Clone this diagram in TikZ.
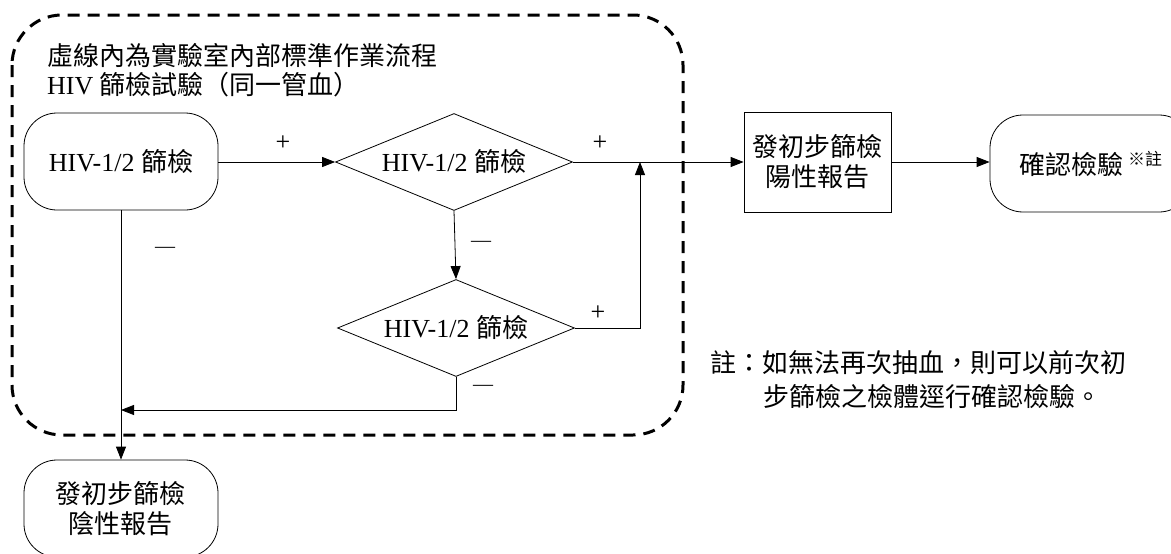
\documentclass[tikz,border=0pt]{standalone}
\usepackage{fontspec}
\setmainfont{Liberation Serif}
\newfontfamily\cjk{Noto Sans CJK TC}
\usetikzlibrary{shapes.geometric,arrows.meta}
\begin{document}
\begin{tikzpicture}[x=1pt,y=-1pt,
  font=\fontsize{26}{30}\selectfont,
  rbox/.style={draw, line width=0.8pt, rectangle, rounded corners=33pt, minimum width=194pt, minimum height=97pt, align=center, inner sep=0pt},
  pbox/.style={draw, line width=0.8pt, rectangle, minimum width=147pt, minimum height=100pt, align=center, inner sep=0pt},
  dia/.style={draw, line width=0.8pt, diamond, aspect=2.44, minimum width=237pt, minimum height=97pt, inner sep=0pt},
  conn/.style={line width=0.8pt},
  arr/.style={line width=0.8pt, -{Triangle[length=13pt,width=10pt]}},
  lbl/.style={inner sep=0pt},
  frame/.style={line width=3pt, dash pattern=on 12pt off 8pt, rounded corners=50pt}
]
\useasboundingbox (0,0) rectangle (1171,554);
% lab frame
\draw[frame] (12,15) rectangle (683,435);
\node[lbl, anchor=west, align=left, font=\fontsize{26}{29}\selectfont] (title) at (47,70)
  {{\cjk 虛線內為實驗室內部標準作業流程}\\HIV {\cjk 篩檢試驗（同一管血）}};

% nodes
\node[rbox] (a) at (121,161.5) {HIV-1/2 {\cjk 篩檢}};
\node[dia] (d1) at (454,162) {HIV-1/2 {\cjk 篩檢}};
\node[dia] (d2) at (456,328) {HIV-1/2 {\cjk 篩檢}};
\node[pbox] (p) at (817.5,162) {{\cjk 發初步篩檢}\\{\cjk 陽性報告}};
\node[rbox, minimum width=202pt] (c) at (1091,163.5) {{\cjk 確認檢驗}\,\raisebox{9pt}{\fontsize{17}{17}\selectfont\cjk ※註}};
\node[rbox] (n) at (121,508.5) {{\cjk 發初步篩檢}\\{\cjk 陰性報告}};

% junction coordinates
\coordinate (j) at (640,162);
\coordinate (m) at (121,410);

% connectors
\draw[arr] (a.east |- d1.west) -- (d1.west);
\draw[arr] (d1.east) -- (p.west);
\draw[arr] (d1.south) -- (d2.north);
\draw[arr] (d2.east) -| (j);
\draw[arr] (d2.south) |- (m);
\draw[arr] (a.south) -- (n.north);
\draw[arr] (p.east) -- (p.east -| c.west);

% labels
\node[lbl] (p1) at (283,143) {+};
\node[lbl] (p2) at (600,143) {+};
\node[lbl] (p3) at (598,313) {+};
\node[lbl, font=\fontsize{20}{20}\selectfont] (m1) at (165,250) {—};
\node[lbl, font=\fontsize{20}{20}\selectfont] (m2) at (481,244) {—};
\node[lbl, font=\fontsize{20}{20}\selectfont] (m3) at (483,388) {—};

% note
\node[lbl, anchor=west, align=left, font=\fontsize{26}{34}\selectfont] (note) at (710,380)
  {{\cjk 註：如無法再次抽血，則可以前次初}\\\hspace*{53pt}{\cjk 步篩檢之檢體逕行確認檢驗。}};
\end{tikzpicture}
\end{document}
